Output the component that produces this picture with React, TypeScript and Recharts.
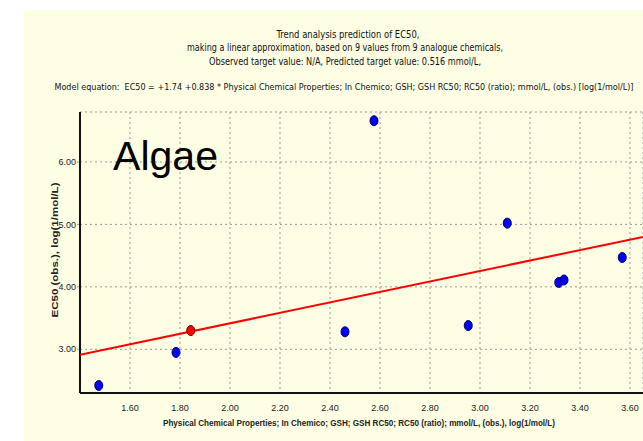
import { ScatterChart, Scatter, XAxis, YAxis, CartesianGrid } from "recharts";

// analogue chemicals: x = physical chemical property, y = EC50 (obs.)
const analogueX = [1.475, 1.784, 2.46, 2.576, 2.953, 3.109, 3.315, 3.336, 3.569];
const analogueY = [2.42, 2.95, 3.28, 6.66, 3.38, 5.02, 4.07, 4.11, 4.47];

// target chemical (predicted)
const targetX = [1.843];
const targetY = [3.3];

// model equation EC50 = intercept + slope * x
const intercept = 1.74;
const slope = 0.838;

const xTicks = [1.6, 1.8, 2.0, 2.2, 2.4, 2.6, 2.8, 3.0, 3.2, 3.4, 3.6];
const yTicks = [3, 4, 5, 6];
const xDomain = [1.4, 3.652];
const yDomain = [2.3, 6.8];

const titleLines = [
  "Trend analysis prediction of EC50,",
  "making a linear approximation, based on 9 values from 9 analogue chemicals,",
  "Observed target value: N/A, Predicted target value: 0.516 mmol/L,",
];
const equationText =
  "Model equation:  EC50 = +1.74 +0.838 * Physical Chemical Properties; In Chemico; GSH; GSH RC50; RC50 (ratio); mmol/L, (obs.) [log(1/mol/L)]";
const xTitle =
  "Physical Chemical Properties; In Chemico; GSH; GSH RC50; RC50 (ratio); mmol/L, (obs.), log(1/mol/L)";
const yTitle = "EC50 (obs.), log(1/mol/L)";

const analogues = analogueX.map((x, i) => ({ x, y: analogueY[i] }));
const target = targetX.map((x, i) => ({ x, y: targetY[i] }));
const trend = xDomain.map((x) => ({ x, y: intercept + slope * x }));

const blueDot = (p: any) => (
  <ellipse cx={p.cx} cy={p.cy} rx={4} ry={5} fill="#0000ff" stroke="#000060" strokeWidth={1} />
);
const redDot = (p: any) => (
  <ellipse cx={p.cx} cy={p.cy} rx={4} ry={5} fill="#ff0000" stroke="#600000" strokeWidth={1} />
);

const tickStyle = { fontFamily: "Liberation Sans", fontSize: 9, fill: "#222" };
const titleFont = "DejaVu Sans Condensed, Liberation Sans";

export default function App() {
  return (
    <div style={{ position: "fixed", left: 0, top: 0, width: 643, height: 441, background: "#fff", overflow: "hidden" }}>
      <div style={{ position: "absolute", left: 24, top: 10, right: 0, bottom: 0, background: "#fefee4" }} />
      <div style={{ position: "absolute", left: 0, top: 0 }}>
        <ScatterChart width={643} height={441} margin={{ top: 112, right: 0, left: 0, bottom: 18 }}>
          <CartesianGrid stroke="#999" strokeDasharray="2 3" />
          <XAxis
            type="number"
            dataKey="x"
            domain={xDomain}
            ticks={xTicks}
            allowDataOverflow
            height={30}
            tickFormatter={(v: number) => v.toFixed(2)}
            tick={tickStyle}
            tickSize={10}
            tickMargin={2}
            tickLine={{ stroke: "none" }}
            axisLine={{ stroke: "#111", strokeWidth: 2 }}
          />
          <YAxis
            type="number"
            dataKey="y"
            domain={yDomain}
            ticks={yTicks}
            allowDataOverflow
            width={80}
            tickFormatter={(v: number) => v.toFixed(2)}
            tick={tickStyle}
            tickSize={3}
            tickMargin={1}
            tickLine={{ stroke: "#999", strokeDasharray: "2 2" }}
            axisLine={{ stroke: "#111", strokeWidth: 2 }}
          />
          <Scatter
            data={trend}
            line={{ stroke: "#ff0000", strokeWidth: 2 }}
            shape={() => <g />}
            isAnimationActive={false}
          />
          <Scatter data={analogues} shape={blueDot} isAnimationActive={false} />
          <Scatter data={target} shape={redDot} isAnimationActive={false} />
        </ScatterChart>
      </div>
      <svg width={643} height={441} style={{ position: "absolute", left: 0, top: 0, pointerEvents: "none" }}>
        <g fontFamily={titleFont} fontSize={10} fill="#111" textAnchor="middle">
          <text x={348} y={38} textLength={143} lengthAdjust="spacingAndGlyphs">{titleLines[0]}</text>
          <text x={345} y={51} textLength={316} lengthAdjust="spacingAndGlyphs">{titleLines[1]}</text>
          <text x={345} y={65} textLength={272} lengthAdjust="spacingAndGlyphs">{titleLines[2]}</text>
          <text x={344} y={90} fontSize={8.3} textLength={579} lengthAdjust="spacingAndGlyphs" style={{ whiteSpace: "pre" }}>
            {equationText}
          </text>
        </g>
        <text
          x={359}
          y={426}
          textAnchor="middle"
          fontFamily="Liberation Sans"
          fontWeight="bold"
          fontSize={9}
          fill="#222"
          textLength={392}
          lengthAdjust="spacingAndGlyphs"
        >
          {xTitle}
        </text>
        <text
          x={58}
          y={250}
          transform="rotate(-90 58 250)"
          textAnchor="middle"
          fontFamily="Liberation Sans"
          fontWeight="bold"
          fontSize={9}
          fill="#222"
          textLength={135}
          lengthAdjust="spacingAndGlyphs"
        >
          {yTitle}
        </text>
        <text x={113} y={170} fontFamily="Liberation Sans" fontSize={40} fill="#000" textLength={105} lengthAdjust="spacingAndGlyphs">
          Algae
        </text>
      </svg>
    </div>
  );
}
